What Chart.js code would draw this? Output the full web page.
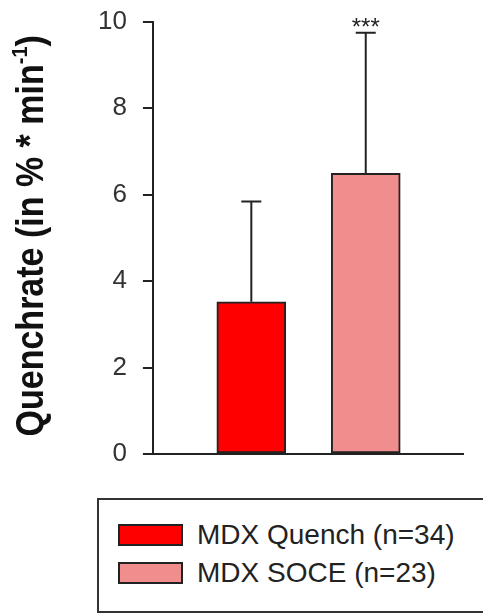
<!DOCTYPE html>
<html>
<head>
<meta charset="utf-8">
<script src="https://cdn.jsdelivr.net/npm/chart.js@4.4.1/dist/chart.umd.min.js"></script>
<style>
    html, body { margin: 0; padding: 0; background: #fff; }
    #wrap { position: relative; width: 483px; height: 613px; overflow: hidden; }
    /* canvas shifted up so the top tick label padding does not push the axis down */
    #quench-chart { position: absolute; left: 0; top: -10px; }
    #legend {
        position: absolute; left: 97px; top: 498px; width: 420px; height: 115px;
        border: 2px solid #333; box-sizing: border-box;
        padding: 24px 0 0 19px;
        font-family: 'Liberation Sans', Arial, sans-serif; font-size: 28px; color: #222;
    }
    .item { display: flex; align-items: center; height: 22px; margin-bottom: 16px; white-space: nowrap; }
    .swatch { width: 65px; height: 22px; box-sizing: border-box; border: 2px solid #222; margin-right: 14px; }
</style>
</head>
<body>
<div id="wrap">
    <canvas id="quench-chart" width="483" height="500"></canvas>
    <div id="legend"></div>
</div>
<script>
// Data
const groups = ['MDX Quench (n=34)', 'MDX SOCE (n=23)'];
const positions = [0, 1];
const means = [3.52, 6.49];
const sds = [2.32, 3.25];
const marks = ['', '***'];
const yTicks = [0, 2, 4, 6, 8, 10];
const barColors = ['#ff0000', '#f08e8e'];

const fontFamily = "'Liberation Sans', Arial, sans-serif";

// Upper error bars and significance marks on top of the bars
const errorBars = {
    id: 'errorBars',
    afterDatasetsDraw(chart) {
        const ctx = chart.ctx;
        const yScale = chart.scales.y;
        const bars = chart.getDatasetMeta(0).data;
        ctx.save();
        ctx.strokeStyle = '#222';
        ctx.lineWidth = 2;
        bars.forEach((bar, i) => {
            const top = yScale.getPixelForValue(means[i] + sds[i]);
            ctx.beginPath();
            ctx.moveTo(bar.x, bar.y);
            ctx.lineTo(bar.x, top);
            ctx.moveTo(bar.x - 10, top);
            ctx.lineTo(bar.x + 10, top);
            ctx.stroke();
            if (marks[i]) {
                ctx.fillStyle = '#222';
                ctx.font = `24px ${fontFamily}`;
                ctx.textAlign = 'center';
                ctx.textBaseline = 'alphabetic';
                ctx.fillText(marks[i], bar.x, top + 2);
            }
        });
        ctx.restore();
    }
};

// Y axis title, drawn rotated and a little stretched like the original (with a superscript)
const yTitle = {
    id: 'yTitle',
    afterDraw(chart) {
        const ctx = chart.ctx;
        const area = chart.chartArea;
        const main = 'Quenchrate (in % * min';
        const sup = '-1';
        const end = ')';
        ctx.save();
        ctx.fillStyle = '#111';
        ctx.font = `bold 34px ${fontFamily}`;
        const wMain = ctx.measureText(main).width;
        const wEnd = ctx.measureText(end).width;
        ctx.font = `bold 20px ${fontFamily}`;
        const wSup = ctx.measureText(sup).width;
        const total = wMain + wSup + wEnd;
        ctx.translate(43, (area.top + area.bottom) / 2 - 2);
        ctx.rotate(-Math.PI / 2);
        ctx.scale(1, 1.12);
        ctx.textBaseline = 'alphabetic';
        ctx.textAlign = 'left';
        let x = -total / 2;
        ctx.font = `bold 34px ${fontFamily}`;
        ctx.fillText(main, x, 0);
        x += wMain;
        ctx.font = `bold 20px ${fontFamily}`;
        ctx.fillText(sup, x, -14);
        x += wSup;
        ctx.font = `bold 34px ${fontFamily}`;
        ctx.fillText(end, x, 0);
        ctx.restore();
    }
};

const ctx = document.getElementById('quench-chart').getContext('2d');
const quenchChart = new Chart(ctx, {
    type: 'bar',
    data: {
        datasets: [{
            label: 'Quenchrate',
            data: positions.map((p, i) => ({ x: p, y: means[i] })),
            backgroundColor: barColors,
            borderColor: '#222',
            borderWidth: 2,
            borderSkipped: false,
            barThickness: 69,
        }],
    },
    options: {
        responsive: false,
        animation: false,
        devicePixelRatio: 1,
        layout: { padding: { top: 12, right: 20, bottom: 36, left: 82 } },
        plugins: {
            legend: { display: false },
            tooltip: { enabled: false },
        },
        scales: {
            x: {
                type: 'linear',
                offset: false,
                min: -0.86,
                max: 1.85,
                grid: { display: false, drawTicks: false, offset: false },
                border: { display: true, color: '#222', width: 2 },
                ticks: { display: false },
            },
            y: {
                min: 0,
                max: 10,
                afterBuildTicks: scale => { scale.ticks = yTicks.map(v => ({ value: v })); },
                border: { display: true, color: '#222', width: 2 },
                grid: { drawOnChartArea: false, drawTicks: true, tickLength: 10, color: '#222', lineWidth: 2 },
                ticks: { color: '#333', padding: 16, font: { family: fontFamily, size: 26 } },
            },
        },
    },
    plugins: [errorBars, yTitle],
});

// HTML legend built from the same arrays
const legend = document.getElementById('legend');
groups.forEach((name, i) => {
    const item = document.createElement('div');
    item.className = 'item';
    const sw = document.createElement('span');
    sw.className = 'swatch';
    sw.style.background = barColors[i];
    const label = document.createElement('span');
    label.textContent = name;
    item.appendChild(sw);
    item.appendChild(label);
    legend.appendChild(item);
});
</script>
</body>
</html>
